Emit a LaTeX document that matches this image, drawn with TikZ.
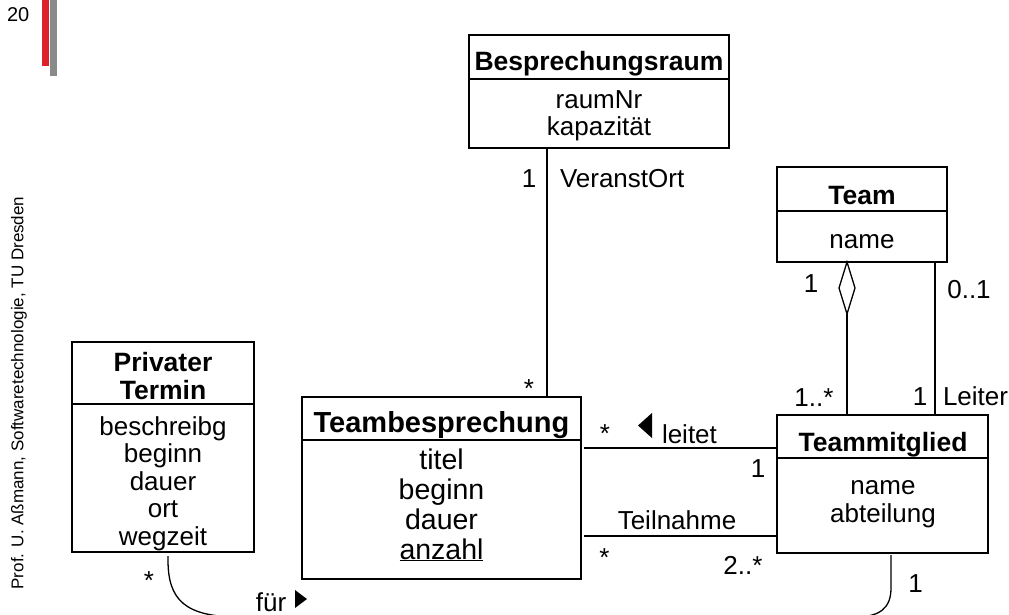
\documentclass[tikz,border=0pt]{standalone}
\usepackage{fontspec}
\setmainfont{Liberation Sans}
\usetikzlibrary{calc,shapes.geometric}
\definecolor{barred}{RGB}{222,32,42}
\definecolor{bargray}{RGB}{138,138,138}

\begin{document}
\begin{tikzpicture}[x=1pt,y=-1pt,
  every node/.style={inner sep=0pt,outer sep=0pt},
  umlbox/.style={draw,line width=1.4pt,anchor=north west,inner sep=0pt},
  divider/.style={line width=1.4pt},
  link/.style={line width=1.3pt},
  headtxt/.style={font=\fontsize{26.5}{27}\selectfont\bfseries,anchor=base,align=center},
  attrtxt/.style={font=\fontsize{26}{27}\selectfont,align=center},
  lbl/.style={font=\fontsize{26}{27}\selectfont,anchor=base},
  lblw/.style={lbl,anchor=base west},
  dirmark/.style={fill=black},
]
\useasboundingbox (0,0) rectangle (1009,615);

% slide decoration
\fill[barred] (42,0) rectangle (48.5,66);
\fill[bargray] (50,0) rectangle (56.5,76);
\node[font=\fontsize{20}{22}\selectfont,anchor=base west] (pageno) at (7,22) {20};
\node[font=\fontsize{17}{19}\selectfont,rotate=90] (author) at (19,393)
  {Prof. U. Aßmann, Softwaretechnologie, TU Dresden};

% class Besprechungsraum
\node[umlbox,minimum width=260pt,minimum height=113pt] (raum) at (469,35) {};
\draw[divider] ($(raum.north west)+(0,44)$) -- ($(raum.north east)+(0,44)$);
\node[headtxt] (raumname) at (599,71) {Besprechungsraum};
\node[attrtxt,font=\fontsize{26}{26}\selectfont] (raumattr) at (599,116.8)
  {\strut raumNr\\kapazität\strut};

% class Team
\node[umlbox,minimum width=170pt,minimum height=95pt] (team) at (777,167) {};
\draw[divider] ($(team.north west)+(0,44)$) -- ($(team.north east)+(0,44)$);
\node[headtxt] (teamname) at (862,204) {Team};
\node[attrtxt,anchor=base] (teamattr) at (862,248) {name};

% class Teammitglied
\node[umlbox,minimum width=211pt,minimum height=138pt] (member) at (777,415) {};
\draw[divider] ($(member.north west)+(0,43)$) -- ($(member.north east)+(0,43)$);
\node[headtxt] (membername) at (883,451) {Teammitglied};
\node[attrtxt,font=\fontsize{26}{28}\selectfont] (memberattr) at (883,502.5)
  {\strut name\\abteilung\strut};

% class Privater Termin
\node[umlbox,minimum width=182pt,minimum height=210pt] (privat) at (72,342) {};
\draw[divider] ($(privat.north west)+(0,62)$) -- ($(privat.north east)+(0,62)$);
\node[headtxt,anchor=center] (privatname) at (163,380) {\strut Privater\\Termin\strut};
\node[attrtxt,font=\fontsize{26}{27.5}\selectfont] (privatattr) at (163,484.5)
  {\strut beschreibg\\beginn\\dauer\\ort\\wegzeit\strut};

% class Teambesprechung
\node[umlbox,minimum width=279pt,minimum height=182pt] (meeting) at (302,397) {};
\draw[divider] ($(meeting.north west)+(0,43)$) -- ($(meeting.north east)+(0,43)$);
\node[headtxt,font=\fontsize{29}{30}\selectfont\bfseries] (meetingname) at (441.5,432) {Teambesprechung};
\node[attrtxt,font=\fontsize{28.5}{30}\selectfont] (meetingattr) at (441.5,508)
  {\strut titel\\beginn\\dauer\\\underline{anzahl}\strut};

% association VeranstOrt
\coordinate (venue) at (547,0);
\draw[link] (venue |- raum.south) -- (venue |- meeting.north);
\node[lbl] (venueone) at (529,187) {1};
\node[lblw] (venuerole) at (560,187) {VeranstOrt};
\node[lbl] (venuemany) at (529,397) {*};

% aggregation Team - Teammitglied
\coordinate (aggx) at (847,0);
\node[diamond,draw,line width=1.3pt,fill=white,minimum width=16pt,minimum height=52pt,
      anchor=north] (agg) at (aggx |- team.south) {};
\draw[link] (agg.south) -- (agg.south |- member.north);
\node[lbl] (aggone) at (811,292) {1};
\node[lbl] (aggmany) at (814,406) {1..*};

% association Leiter
\coordinate (headx) at (935,0);
\draw[link] (headx |- team.south) -- (headx |- member.north);
\node[lbl] (leadopt) at (969,298) {0..1};
\node[lbl] (leadone) at (920,405) {1};
\node[lblw] (leadrole) at (943,405) {Leiter};

% association leitet
\coordinate (leadsy) at (0,448);
\draw[link] ($(meeting.east |- leadsy)+(3,0)$) -- (member.west |- leadsy);
\fill[dirmark] (638,425.5) -- (652,413) -- (652,438) -- cycle;
\node[lbl] (leitmany) at (605,442.5) {*};
\node[lblw] (leitname) at (662,443) {leitet};
\node[lbl] (leitone) at (758,477) {1};

% association Teilnahme
\coordinate (joinsy) at (0,536);
\draw[link] ($(meeting.east |- joinsy)+(3,0)$) -- (member.west |- joinsy);
\node[lbl] (teilname) at (677,529) {Teilnahme};
\node[lbl] (teilmany) at (604.5,566) {*};
\node[lbl] (teilmin) at (743,574) {2..*};

% association fuer (runs below the visible area)
\coordinate (privx) at (168,0);
\coordinate (memx) at (891,0);
\draw[link] ($(privx |- privat.south)+(0,4)$) -- (168,560)
  .. controls (168,600) and (185,617) .. (240,617) -- (855,617)
  .. controls (880,617) and (891,608) .. (891,588) -- ($(memx |- member.south)+(0,2)$);
\fill[dirmark] (295,590) -- (307,599) -- (295,608) -- cycle;
\node[lbl] (fuermany) at (149,589) {*};
\node[lbl] (fuername) at (271,611) {für};
\node[lbl] (fuerone) at (915.5,592) {1};
\end{tikzpicture}
\end{document}
